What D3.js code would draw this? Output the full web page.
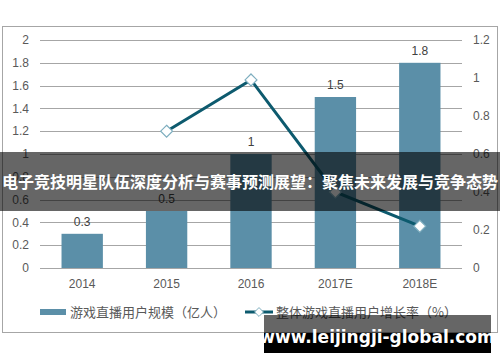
<!DOCTYPE html>
<html>
<head>
<meta charset="utf-8">
<script src="https://cdn.jsdelivr.net/npm/d3@7"></script>
<style>
  body { margin: 0; background: #fff; }
  svg { display: block; }
</style>
</head>
<body>
<svg id="chart" width="500" height="362"></svg>
<script>
// data
var years = ["2014", "2015", "2016", "2017E", "2018E"];
var users = [0.3, 0.5, 1, 1.5, 1.8];            // 游戏直播用户规模（亿人）
var growth = [null, 0.72, 0.99, 0.40, 0.22];    // 整体游戏直播用户增长率（%）
var leftTicks = [0, 0.2, 0.4, 0.6, 0.8, 1, 1.2, 1.4, 1.6, 1.8, 2];
var rightTicks = [0, 0.2, 0.4, 0.6, 0.8, 1, 1.2];

var title = "电子竞技明星队伍深度分析与赛事预测展望：聚焦未来发展与竞争态势";
var watermark = "www.leijingji-global.com";

var svg = d3.select("#chart");
var numFont = "'Liberation Sans', Arial, sans-serif";
var cjkFont = "'Noto Sans CJK SC', 'Liberation Sans', sans-serif";

var x = d3.scaleBand().domain(years).range([40, 462]).paddingInner(0.51).paddingOuter(0.255);
var yL = d3.scaleLinear().domain([0, 2]).range([268, 40]);
var yR = d3.scaleLinear().domain([0, 1.2]).range([268, 40]);

// outer frame
svg.append("rect")
    .attr("x", 2.5).attr("y", 26.5).attr("width", 495).attr("height", 306)
    .attr("fill", "none").attr("stroke", "#a6a6a6");

// gridlines
svg.append("g").selectAll("line")
    .data(leftTicks).join("line")
    .attr("x1", 40).attr("x2", 462)
    .attr("y1", d => Math.round(yL(d)) + 0.5).attr("y2", d => Math.round(yL(d)) + 0.5)
    .attr("stroke", "#a6a6a6").attr("stroke-width", 1);

// left axis labels
svg.append("g").selectAll("text")
    .data(leftTicks).join("text")
    .attr("x", 29).attr("y", d => yL(d)).attr("dy", "0.35em")
    .attr("text-anchor", "end")
    .attr("font-family", numFont).attr("font-size", 12).attr("fill", "#595959")
    .text(d => d3.format("~g")(d));

// right axis labels
svg.append("g").selectAll("text")
    .data(rightTicks).join("text")
    .attr("x", 473).attr("y", d => yR(d)).attr("dy", "0.35em")
    .attr("font-family", numFont).attr("font-size", 12).attr("fill", "#595959")
    .text(d => d3.format("~g")(d));

// x labels
svg.append("g").selectAll("text")
    .data(years).join("text")
    .attr("x", d => x(d) + x.bandwidth() / 2).attr("y", 288)
    .attr("text-anchor", "middle")
    .attr("font-family", numFont).attr("font-size", 12).attr("fill", "#595959")
    .text(d => d);

// bars
var barColor = "#5b8fa8";
svg.append("g").selectAll("rect")
    .data(users).join("rect")
    .attr("x", (d, i) => x(years[i]))
    .attr("y", d => yL(d))
    .attr("width", x.bandwidth())
    .attr("height", d => yL(0) - yL(d))
    .attr("fill", barColor);

svg.append("g").selectAll("text")
    .data(users).join("text")
    .attr("x", (d, i) => x(years[i]) + x.bandwidth() / 2)
    .attr("y", d => yL(d) - 8)
    .attr("text-anchor", "middle")
    .attr("font-family", numFont).attr("font-size", 12).attr("fill", "#404040")
    .text(d => d);

// growth line
var lineColor = "#0d5a6e";
var pts = growth.map((d, i) => ({ k: years[i], v: d })).filter(d => d.v != null);
var line = d3.line()
    .x(d => x(d.k) + x.bandwidth() / 2)
    .y(d => yR(d.v));
svg.append("path")
    .attr("d", line(pts))
    .attr("fill", "none").attr("stroke", lineColor).attr("stroke-width", 3);

var diamond = d3.symbol().type(d3.symbolDiamond2).size(90);
svg.append("g").selectAll("path")
    .data(pts).join("path")
    .attr("d", diamond)
    .attr("transform", d => `translate(${x(d.k) + x.bandwidth() / 2},${yR(d.v)})`)
    .attr("fill", "#fff").attr("stroke", "#7eaebf").attr("stroke-width", 1.2);

// legend
var lg = svg.append("g");
lg.append("rect").attr("x", 40).attr("y", 309).attr("width", 26).attr("height", 6).attr("fill", barColor);
lg.append("text").attr("x", 70).attr("y", 312).attr("dy", "0.35em")
    .attr("font-family", cjkFont).attr("font-size", 13).attr("fill", "#595959")
    .text("游戏直播用户规模（亿人）");
lg.append("line").attr("x1", 245).attr("x2", 273).attr("y1", 312).attr("y2", 312)
    .attr("stroke", lineColor).attr("stroke-width", 3);
lg.append("path").attr("d", d3.symbol().type(d3.symbolDiamond2).size(50))
    .attr("transform", "translate(259,312)")
    .attr("fill", "#fff").attr("stroke", "#7eaebf").attr("stroke-width", 1);
lg.append("text").attr("x", 276).attr("y", 312).attr("dy", "0.35em")
    .attr("font-family", cjkFont).attr("font-size", 13).attr("fill", "#595959")
    .text("整体游戏直播用户增长率（%）");

// title banner
svg.append("rect").attr("x", 0).attr("y", 152).attr("width", 500).attr("height", 59)
    .attr("fill", "rgba(0,0,0,0.6)");
svg.append("text").attr("x", 250).attr("y", 182).attr("dy", "0.35em")
    .attr("text-anchor", "middle")
    .attr("font-family", cjkFont).attr("font-weight", "bold").attr("font-size", 16)
    .attr("fill", "#fff")
    .text(title);

// watermark
svg.append("rect").attr("x", 264).attr("y", 315).attr("width", 227).attr("height", 38)
    .attr("fill", "rgba(0,0,0,0.6)");
svg.append("rect").attr("x", 264).attr("y", 333).attr("width", 227).attr("height", 20)
    .attr("fill", "#000");
svg.append("text").attr("x", 377).attr("y", 337).attr("dy", "0.35em")
    .attr("text-anchor", "middle")
    .attr("font-family", "'DejaVu Sans', sans-serif").attr("font-weight", "bold").attr("font-size", 17)
    .attr("fill", "#fff")
    .text(watermark);
</script>
</body>
</html>
